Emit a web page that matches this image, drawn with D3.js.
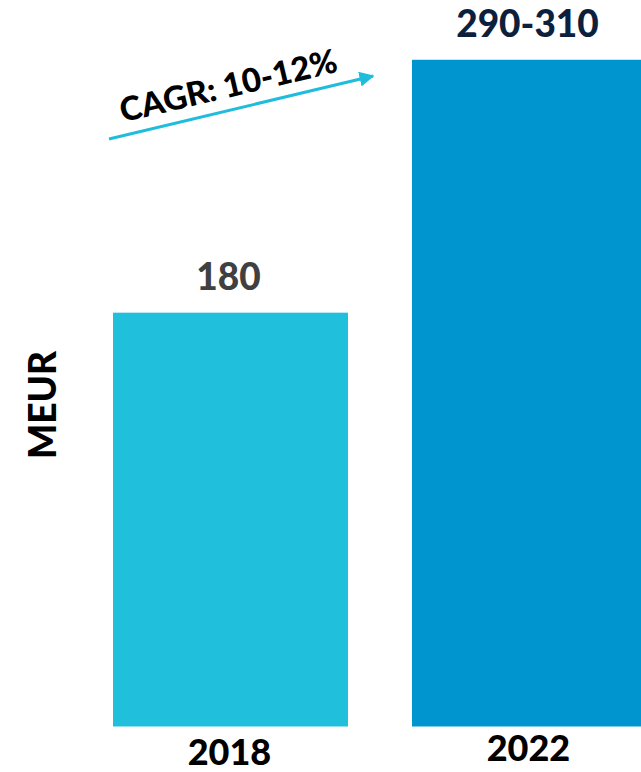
<!DOCTYPE html>
<html>
<head>
<meta charset="utf-8">
<script src="https://cdn.jsdelivr.net/npm/d3@7"></script>
<style>
  body { margin: 0; background: #fff; }
  text { font-family: Lato, 'Open Sans', sans-serif; font-weight: 900; }
</style>
</head>
<body>
<div id="chart"></div>
<script>
// data
const years = ['2018', '2022'];
const values = [180, 290];
const valueLabels = ['180', '290-310'];
const barColors = ['#20c0dc', '#0095cf'];
const labelColors = ['#404040', '#0c1f3d'];
const cagrLabel = 'CAGR: 10-12%';
const unitLabel = 'MEUR';

const width = 641, height = 772;

const svg = d3.select('#chart')
  .append('svg')
  .attr('width', width)
  .attr('height', height);

// scales
const x = d3.scaleBand()
  .domain(years)
  .range([113, 647])
  .paddingInner(0.214)
  .paddingOuter(0);

const y = d3.scaleLinear()
  .domain([0, 316])
  .range([726.5, 0]);

const rows = years.map((yr, i) => ({ year: yr, value: values[i], label: valueLabels[i], color: barColors[i], lc: labelColors[i] }));

// bars
svg.selectAll('rect.bar')
  .data(rows)
  .enter()
  .append('rect')
  .attr('class', 'bar')
  .attr('x', d => x(d.year))
  .attr('y', d => y(d.value))
  .attr('width', x.bandwidth())
  .attr('height', d => y(0) - y(d.value))
  .attr('fill', d => d.color);

// value labels
svg.selectAll('text.val')
  .data(rows)
  .enter()
  .append('text')
  .attr('class', 'val')
  .attr('x', d => x(d.year) + x.bandwidth() / 2 - 2)
  .attr('y', d => y(d.value) - 23)
  .attr('text-anchor', 'middle')
  .attr('font-size', 37)
  .attr('fill', d => d.lc)
  .text(d => d.label);

// year labels
svg.selectAll('text.year')
  .data(rows)
  .enter()
  .append('text')
  .attr('class', 'year')
  .attr('x', d => x(d.year) + x.bandwidth() / 2 - 1)
  .attr('y', (d, i) => i === 0 ? 765 : 761)
  .attr('text-anchor', 'middle')
  .attr('font-size', 36)
  .attr('fill', '#000')
  .text(d => d.year);

// unit label
svg.append('text')
  .attr('transform', 'translate(56,405) rotate(-90)')
  .attr('text-anchor', 'middle')
  .attr('font-size', 37)
  .attr('fill', '#000')
  .text(unitLabel);

// CAGR arrow
const defs = svg.append('defs');
defs.append('marker')
  .attr('id', 'arrow')
  .attr('viewBox', '0 0 10 10')
  .attr('refX', 9)
  .attr('refY', 5)
  .attr('markerWidth', 5)
  .attr('markerHeight', 5)
  .attr('orient', 'auto')
  .append('path')
  .attr('d', 'M0,0 L10,5 L0,10 Z')
  .attr('fill', '#20bcdc');

svg.append('line')
  .attr('x1', 109).attr('y1', 139)
  .attr('x2', 373).attr('y2', 76)
  .attr('stroke', '#20bcdc')
  .attr('stroke-width', 3)
  .attr('marker-end', 'url(#arrow)');

svg.append('text')
  .attr('transform', 'translate(231,97) rotate(-13.2)')
  .attr('text-anchor', 'middle')
  .attr('font-size', 33)
  .attr('fill', '#000')
  .text(cagrLabel);
</script>
</body>
</html>
